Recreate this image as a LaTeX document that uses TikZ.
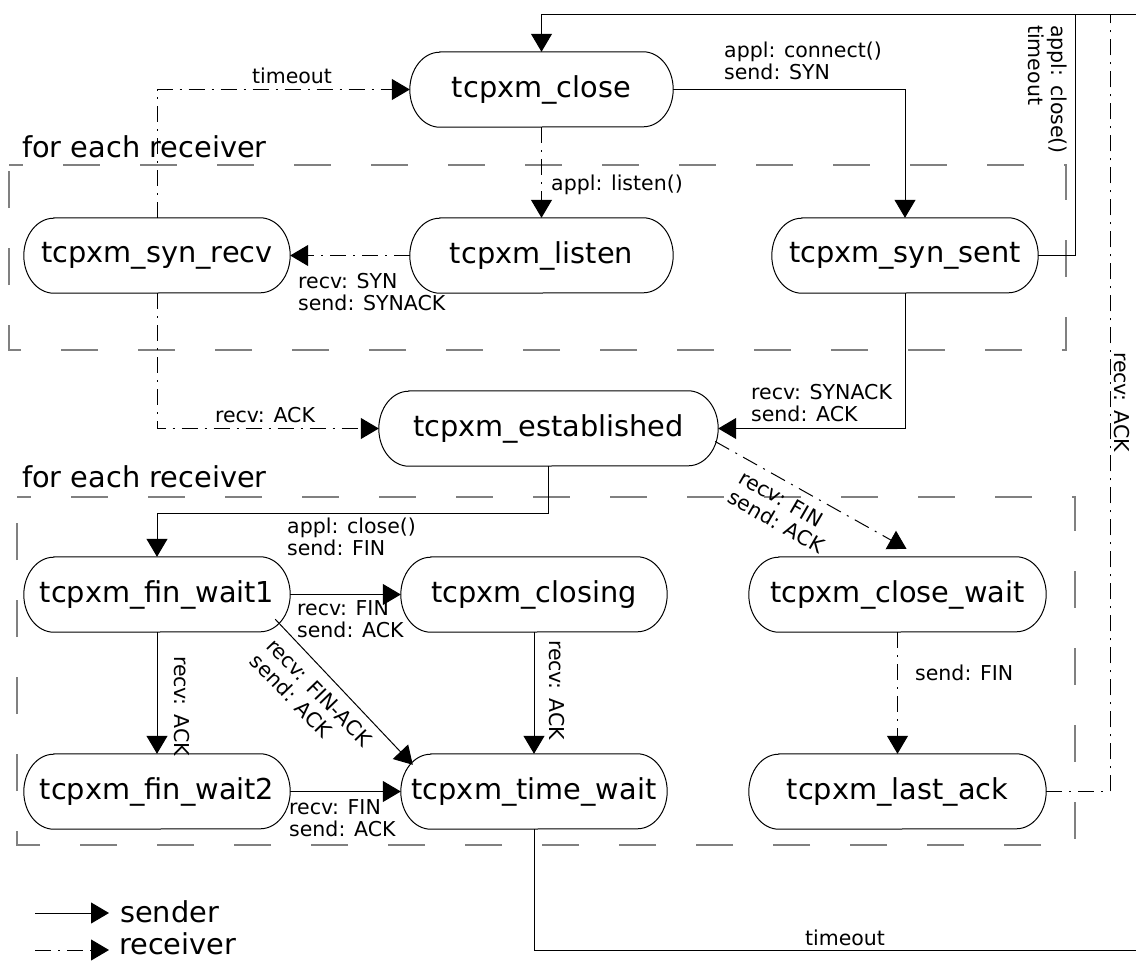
\documentclass[tikz,border=0pt]{standalone}
\usepackage{fontspec}
\setmainfont{DejaVu Sans}
\usetikzlibrary{arrows.meta,calc}

\newcommand\statefont{\fontsize{28.8}{34}\selectfont}
\newcommand\edgefont{\fontsize{20.5}{22.5}\selectfont}

\tikzset{
  state/.style={rectangle, inner sep=0pt, minimum height=75pt, font=\statefont},
  stateline/.style={draw=black, line width=1pt},
  lbl/.style={font=\edgefont, align=left, inner sep=0pt},
  bigtext/.style={font=\statefont, inner sep=0pt},
  sendline/.style={draw=black, line width=1pt},
  recvline/.style={draw=black, line width=1pt, dash pattern=on 16pt off 7pt on 2pt off 7pt},
  tip/.style={-{Triangle[length=18pt,width=21pt]}},
  groupbox/.style={draw=black!50, line width=1.6pt, dash pattern=on 37pt off 40pt, dash phase=23pt},
}

\begin{document}
\begin{tikzpicture}[x=1pt,y=-1pt]
\useasboundingbox (0,0) rectangle (1136,961);

% groups of per-receiver states
\draw[groupbox] (9,165) -- (1066,165) -- (1066,350) -- (9,350) -- cycle;
\draw[groupbox] (17,497) -- (1075,497) -- (1075,845) -- (17,845) -- cycle;
\node[bigtext, anchor=base west] (grp1) at (22,157) {for each receiver};
\node[bigtext, anchor=base west] (grp2) at (22,487) {for each receiver};

% states
\node[state, minimum width=263pt] (close)     at (541.5,89.5)  {tcpxm\_close};
\node[state, minimum width=263pt] (listen)    at (541.5,255.5) {tcpxm\_listen};
\node[state, minimum width=266pt] (synrecv)   at (157,255.5)   {tcpxm\_syn\_recv};
\node[state, minimum width=266pt] (synsent)   at (905,255.5)   {tcpxm\_syn\_sent};
\node[state, minimum width=339pt] (est)       at (548.5,428.5) {tcpxm\_established};
\node[state, minimum width=266pt] (fw1)       at (157,594.5)   {tcpxm\_fin\_wait1};
\node[state, minimum width=266pt] (closing)   at (534,594.5)   {tcpxm\_closing};
\node[state, minimum width=297pt] (closewait) at (897.5,594.5) {tcpxm\_close\_wait};
\node[state, minimum width=266pt] (fw2)       at (157,791.5)   {tcpxm\_fin\_wait2};
\node[state, minimum width=266pt] (timewait)  at (534,791.5)   {tcpxm\_time\_wait};
\node[state, minimum width=297pt] (lastack)   at (897.5,791.5) {tcpxm\_last\_ack};

% state outlines: flat top and bottom, elliptic ends
\foreach \n in {close,listen,synrecv,synsent,est,fw1,closing,closewait,fw2,timewait,lastack}{
  \draw[stateline] ($(\n.north west)+(30,0)$) -- ($(\n.north east)+(-30,0)$)
    arc[start angle=90, end angle=-90, x radius=30pt, y radius=37.5pt]
    -- ($(\n.south west)+(30,0)$)
    arc[start angle=270, end angle=90, x radius=30pt, y radius=37.5pt] -- cycle;
}

% loop ends at the right edge
\coordinate (topR) at (1136,14);
\coordinate (botR) at (1136,950);
\coordinate (loopS) at (1075,14);
\coordinate (loopR) at (1110,14);

% sender transitions
\draw[sendline, tip] (topR) -| (close.north);
\draw[sendline] (synsent.east) -| (loopS);
\draw[sendline, tip] (close.east) -| (synsent.north);
\draw[sendline, tip] (synsent.south) |- (est.east);
\draw[sendline, tip] (est.south) -- (est.south |- 0,513) -| (fw1.north);
\draw[sendline, tip] (fw1.east) -- (closing.west);
\draw[sendline, tip] (fw1.south) -- (fw2.north);
\draw[sendline, tip] ($(fw1.south east)+(-15,-13)$) -- ($(timewait.north west)+(12,11)$);
\draw[sendline, tip] (closing.south) -- (timewait.north);
\draw[sendline, tip] (fw2.east) -- (timewait.west);
\draw[sendline] (timewait.south) |- (botR);

% receiver transitions
\draw[recvline, tip] (close.south) -- (listen.north);
\draw[recvline, tip] (listen.west) -- (synrecv.east);
\draw[recvline, tip] (synrecv.north) |- (close.west);
\draw[recvline, tip] (synrecv.south) |- (est.west);
\draw[recvline, tip] ($(est.east)+(-3,13)$) -- ($(closewait.north)+(9,-8)$);
\draw[recvline, tip] (closewait.south) -- (lastack.north);
\draw[recvline] (lastack.east) -| (loopR);

% transition labels
\node[lbl, rotate=-90, anchor=north west] (lcloseto) at (1067,25) {appl: close()\\timeout};
\node[lbl] (lto1) at (292,76) {timeout};
\node[lbl, anchor=west] (lconn) at (724,61) {appl: connect()\\send: SYN};
\node[lbl, anchor=west] (llisten) at (551,185) {appl: listen()};
\node[lbl, anchor=west] (lsyn) at (298,292) {recv: SYN\\send: SYNACK};
\node[lbl] (lack1) at (265,415) {recv: ACK};
\node[lbl, anchor=west] (lsynack) at (751,403) {recv: SYNACK\\send: ACK};
\node[lbl, anchor=west] (lclose) at (287,537) {appl: close()\\send: FIN};
\node[lbl, rotate=-30] (lfin1) at (782,512) {recv: FIN\\send: ACK};
\node[lbl, anchor=west] (lfin2) at (297,619) {recv: FIN\\send: ACK};
\node[lbl, rotate=-46] (lfinack) at (311,700) {recv: FIN-ACK\\send: ACK};
\node[lbl, rotate=-90] (lack2) at (182,706) {recv: ACK};
\node[lbl, rotate=-90] (lack3) at (557,690) {recv: ACK};
\node[lbl, anchor=west] (lfin3) at (289,818) {recv: FIN\\send: ACK};
\node[lbl, anchor=west] (lsfin) at (915,673) {send: FIN};
\node[lbl, rotate=-90] (lack4) at (1122,402) {recv: ACK};
\node[lbl] (lto2) at (845,938) {timeout};

% legend
\coordinate (lgA1) at (35,913);
\coordinate (lgA2) at (109,913);
\coordinate (lgB1) at (35,950);
\coordinate (lgB2) at (109,950);
\draw[sendline, tip] (lgA1) -- (lgA2);
\draw[recvline, tip] (lgB1) -- (lgB2);
\node[bigtext, anchor=west] (lgsend) at (120,912) {sender};
\node[bigtext, anchor=west] (lgrecv) at (119,944) {receiver};
\end{tikzpicture}
\end{document}
